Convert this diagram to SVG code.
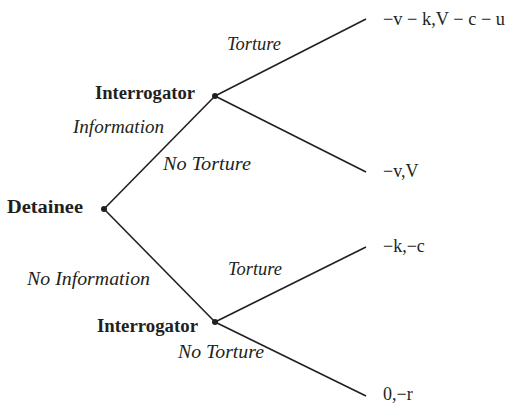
<svg xmlns="http://www.w3.org/2000/svg" width="506" height="405" viewBox="0 0 506 405">
<style>
text{font-family:'Liberation Serif','Times New Roman',Times,serif;fill:#231f20}
.n{font-weight:bold;font-size:18px}
.a{font-style:italic;font-size:18px}
.p{font-size:18px}
.e{stroke:#231f20;stroke-width:1.6;fill:none}
.d{fill:#231f20}
</style>
<rect width="506" height="405" fill="#fff"/>
<g id="connectors">
<line class="e" x1="104" y1="209" x2="215" y2="96"/>
<line class="e" x1="104" y1="209" x2="215" y2="322"/>
<line class="e" x1="215" y1="96" x2="366" y2="19"/>
<line class="e" x1="215" y1="96" x2="366" y2="172"/>
<line class="e" x1="215" y1="322" x2="366" y2="247"/>
<line class="e" x1="215" y1="322" x2="366" y2="396"/>
<text class="a" x="227" y="50" textLength="54" lengthAdjust="spacingAndGlyphs">Torture</text>
<text class="a" x="163" y="170" textLength="88" lengthAdjust="spacingAndGlyphs">No  Torture</text>
<text class="a" x="73" y="133" textLength="91" lengthAdjust="spacingAndGlyphs">Information</text>
<text class="a" x="27" y="285" textLength="123" lengthAdjust="spacingAndGlyphs">No  Information</text>
<text class="a" x="228" y="275" textLength="54" lengthAdjust="spacingAndGlyphs">Torture</text>
<text class="a" x="178" y="358" textLength="86" lengthAdjust="spacingAndGlyphs">No  Torture</text>
</g>
<g id="detainee">
<circle class="d" cx="104" cy="209" r="3"/>
<text class="n" x="7" y="213" textLength="76" lengthAdjust="spacingAndGlyphs">Detainee</text>
</g>
<g id="interrogator1">
<circle class="d" cx="215" cy="96" r="3"/>
<text class="n" x="95" y="99" textLength="100" lengthAdjust="spacingAndGlyphs">Interrogator</text>
</g>
<g id="interrogator2">
<circle class="d" cx="215" cy="322" r="3"/>
<text class="n" x="97" y="332" textLength="101" lengthAdjust="spacingAndGlyphs">Interrogator</text>
</g>
<g id="payoff1"><text class="p" x="383" y="25" textLength="122" lengthAdjust="spacingAndGlyphs">−v − k,V − c − u</text></g>
<g id="payoff2"><text class="p" x="383" y="177">−v,V</text></g>
<g id="payoff3"><text class="p" x="383" y="252">−k,−c</text></g>
<g id="payoff4"><text class="p" x="383" y="400">0,−r</text></g>
</svg>
